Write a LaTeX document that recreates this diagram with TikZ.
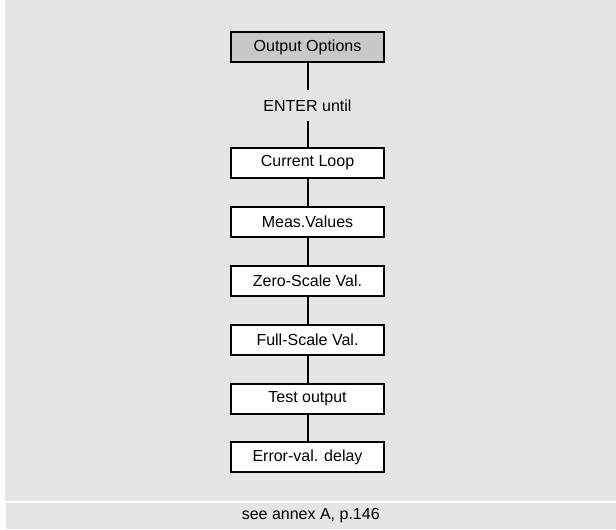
\documentclass[tikz,border=0pt]{standalone}
\usepackage{fontspec}
\setmainfont{Liberation Sans}
\definecolor{panelgray}{RGB}{229,229,229}
\definecolor{headgray}{RGB}{200,200,200}
\begin{document}
\begin{tikzpicture}[x=0.75pt,y=-0.75pt,
  font=\fontsize{12}{14}\selectfont,
  stepbox/.style={draw=black, line width=1.5pt, fill=white, inner sep=0pt,
    minimum width=114.75pt, minimum height=22.5pt},
  headbox/.style={stepbox, fill=headgray},
  conn/.style={draw=black, line width=1.5pt}]
\useasboundingbox (0,0) rectangle (616,529);
\fill[panelgray] (4.5,0) rectangle (616,500.5);
\fill[panelgray] (5.5,503) rectangle (616,529);

\node[headbox] (oo) at (307.5,47) {Output Options};
\node[inner sep=0pt, minimum height=23.25pt] (enter) at (307.5,105.5) {ENTER until};
\node[stepbox] (cl) at (307.5,163) {Current Loop};
\node[stepbox] (mv) at (307.5,222) {Meas.Values};
\node[stepbox] (zs) at (307.5,281) {Zero-Scale Val.};
\node[stepbox] (fs) at (307.5,340) {Full-Scale Val.};
\node[stepbox] (to) at (307.5,398.5) {Test output};
\node[stepbox] (ed) at (307.5,457) {Error-val. delay};

\draw[conn] (oo) -- (enter);
\draw[conn] (enter) -- (cl);
\draw[conn] (cl) -- (mv);
\draw[conn] (mv) -- (zs);
\draw[conn] (zs) -- (fs);
\draw[conn] (fs) -- (to);
\draw[conn] (to) -- (ed);

\node (cap) at (310.75,516) {see annex A, p.146};
\end{tikzpicture}
\end{document}
